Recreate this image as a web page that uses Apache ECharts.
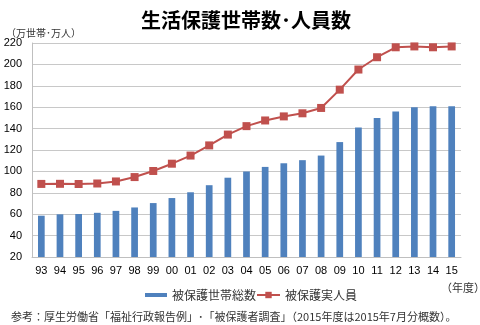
<!DOCTYPE html>
<html><head><meta charset="utf-8">
<script src="https://cdn.jsdelivr.net/npm/echarts@6/dist/echarts.min.js"></script>
<style>html,body{margin:0;padding:0;background:#fff}#c{width:480px;height:325px}</style>
</head><body><div id="c"></div>
<script>
const categories = ['93','94','95','96','97','98','99','00','01','02','03','04','05','06','07','08','09','10','11','12','13','14','15'];
const households = [58.6,59.9,60.2,61.3,63.1,66.3,70.4,75.1,80.5,87.1,94.1,99.9,104.2,107.6,110.5,114.8,127.4,141.0,149.8,156.0,160.0,161.0,161.0];
const persons = [88.3,88.4,88.2,88.7,90.6,94.7,100.4,107.2,114.8,124.3,134.4,142.3,147.6,151.4,154.3,159.3,176.4,195.2,206.7,216.0,216.8,216.0,216.8];
const yTicks = {min:20, max:220, interval:20};
const jp = '"Noto Sans CJK JP", sans-serif';
const chart = echarts.init(document.getElementById('c'));
chart.setOption({
  animation:false,
  title:[
    {text:'生活保護世帯数･人員数', left:241, top:5, textAlign:'center',
     textStyle:{fontFamily:jp, fontSize:20, fontWeight:'bold', color:'#000'}},
    {text:'（万世帯･万人）', left:1, top:23, textStyle:{fontFamily:jp, fontSize:10, fontWeight:'normal', color:'#333'}},
    {text:'（年度）', left:436, top:277, textStyle:{fontFamily:jp, fontSize:11, fontWeight:'normal', color:'#333'}},
    {text:'参考：厚生労働省「福祉行政報告例」･「被保護者調査」（2015年度は2015年7月分概数）。', left:6, top:306,
     textStyle:{fontFamily:jp, fontSize:11, fontWeight:'normal', color:'#333'}}
  ],
  grid:{left:32, right:19, top:43, bottom:68},
  legend:[
    {data:[{name:'被保護世帯総数', icon:'rect'}], left:140, top:284, itemWidth:22, itemHeight:4, itemGap:4,
     textStyle:{fontFamily:jp, fontSize:12, color:'#333'}},
    {data:['被保護実人員'], left:251, top:284, itemWidth:23, itemHeight:8, itemGap:4,
     textStyle:{fontFamily:jp, fontSize:12, color:'#333'}}
  ],
  xAxis:{type:'category', data:categories,
    axisLine:{show:true, lineStyle:{color:'#bfbfbf'}}, axisTick:{show:false},
    axisLabel:{fontFamily:'"Liberation Sans", Arial, sans-serif', fontSize:11, color:'#000', margin:8, interval:0}},
  yAxis:{type:'value', min:yTicks.min, max:yTicks.max, interval:yTicks.interval,
    axisLine:{show:true, lineStyle:{color:'#bfbfbf'}}, axisTick:{show:false},
    splitLine:{lineStyle:{color:'#c8c8c8', width:1}},
    axisLabel:{fontFamily:'"Liberation Sans", Arial, sans-serif', fontSize:11, color:'#000', margin:10}},
  series:[
    {name:'被保護世帯総数', type:'bar', data:households, barWidth:'36%',
     itemStyle:{color:'#4F81BD'}},
    {name:'被保護実人員', type:'line', data:persons, symbol:'rect', symbolSize:8,
     lineStyle:{color:'#C0504D', width:2}, itemStyle:{color:'#C0504D'}}
  ]
});
</script></body></html>
